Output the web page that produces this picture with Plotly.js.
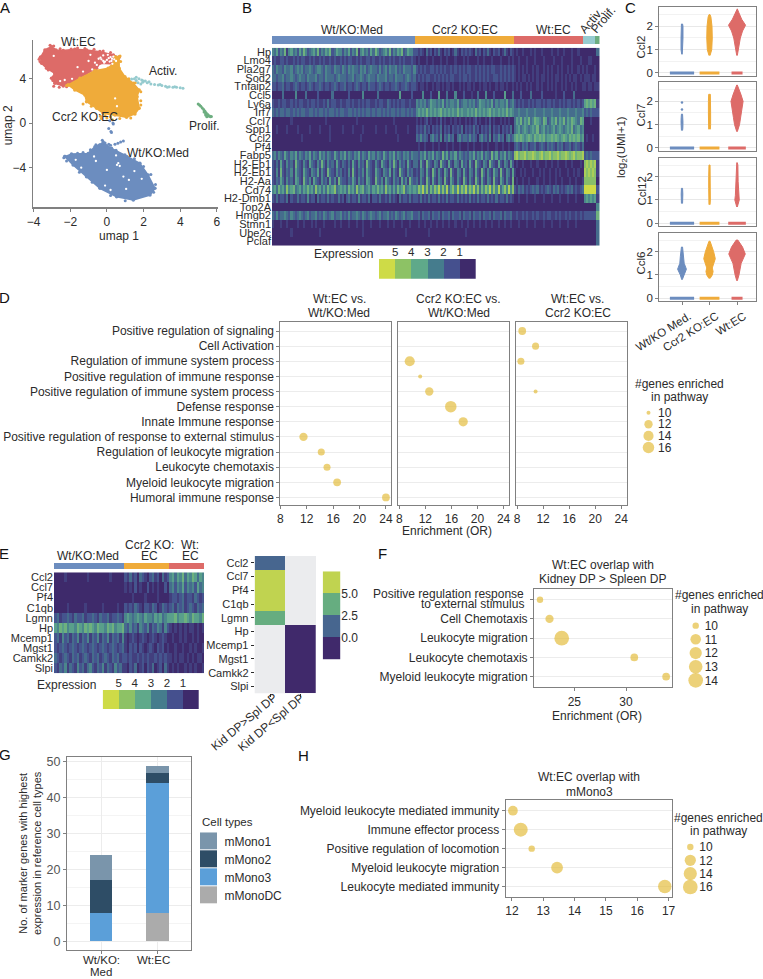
<!DOCTYPE html>
<html><head><meta charset="utf-8">
<script src="https://cdn.plot.ly/plotly-3.0.1.min.js"></script>
<style>html,body{margin:0;padding:0;background:#fff}</style></head>
<body><div id="chart" style="width:763px;height:979px"></div>
<script>
// ---------- palette ----------
const BLUE='#6C8DBF',ORANGE='#EFAB3A',RED='#DD6B68',TEAL='#96CBCF',GREEN='#6DAE80',GOLD='#E4BD40';
const viridisSteps=[[0,'#3E2A6B'],[0.2,'#45508E'],[0.4,'#457C8D'],[0.6,'#5FA98A'],[0.8,'#8DC265'],[1,'#CEDB47']];

// ---------- panel A: UMAP cluster outlines and loose points (umap units) ----------
const wtEcX=[-3.62,-3.38,-3.02,-2.78,-2.38,-1.75,-1.11,-0.38,0.35,0.67,0.44,-0.38,-0.56,-1.11,-1.65,-2.11,-2.38,-2.84,-3.02,-2.84,-3.29,-3.56];
const wtEcY=[5.88,6.54,6.84,6.54,6.48,6.60,6.54,6.39,6.09,5.88,5.28,5.34,4.9,4.39,3.91,3.49,3.31,3.55,4.0,4.45,4.9,5.34];
const wtEcFringeX=[-3.1,-2.9,-1.6,-1.2,-0.7,-0.2,0.2,-3.7,-3.65,-3.2,-2.9,-2.6,-2.2,-2.95,-2.55,-1.95];
const wtEcFringeY=[6.95,6.9,6.72,6.68,6.6,6.45,6.3,5.7,5.5,4.75,3.3,3.2,3.25,3.8,6.65,6.62];
const ccr2X=[-2.11,-1.47,-0.65,0.07,0.35,0.44,0.67,0.67,0.98,1.44,1.76,1.65,1.76,1.53,1.07,0.44,-0.2,-0.56,-1.11,-1.2,-1.75];
const ccr2Y=[3.4,4.0,4.69,4.9,5.34,5.94,5.94,4.9,4.15,3.55,2.96,2.36,1.31,0.81,0.51,0.72,0.87,1.31,1.91,2.51,2.96];
const ccr2FringeX=[-0.35,-0.1,0.2,0.7,1.3,1.85,1.85,1.85,1.55,1.2,0.75,0.72,-2.2,-1.3,-0.85,0.0,0.3,-0.3];
const ccr2FringeY=[0.6,0.65,0.55,0.4,0.45,1.6,2.0,2.8,3.6,3.95,5.5,6.0,3.35,1.7,1.5,0.45,0.3,0.4];
const medX=[-2.29,-1.93,-1.02,-0.65,-0.2,0.25,0.98,1.8,2.25,2.62,2.35,1.44,0.53,-0.38,-1.11,-1.84];
const medY=[-3.01,-2.78,-2.72,-2.12,-1.76,-2.27,-2.87,-3.61,-4.66,-5.85,-6.45,-6.9,-6.6,-5.85,-4.81,-3.76];
const medFringeX=[-2.35,-2.2,-1.6,-1.3,-0.9,-0.75,-0.4,1.1,1.5,2.0,2.4,2.65,2.55,1.0,0.2,-0.8,-1.5,-0.6,-0.25,0.5];
const medFringeY=[-3.1,-3.4,-2.7,-2.65,-2.4,-2.6,-1.95,-3.0,-3.2,-3.9,-4.6,-5.5,-6.2,-6.95,-6.5,-5.3,-4.4,-1.95,-1.55,-2.45];
const medLooseX=[0.44,0.6,0.75,0.9,-0.2,-0.1,0.1,0.2,0.16,0.33,0.1,0.22,0.25,0.35,-0.35,-0.5];
const medLooseY=[-1.9,-1.82,-1.7,-1.62,-1.67,-1.8,-1.9,-2.0,0.2,0.0,-0.5,-0.75,-0.85,-0.1,-2.2,-2.4];
const activX=[1.35,1.5,1.6,1.75,1.9,2.0,2.2,2.4,2.6,2.8,3.0,3.2,3.4,3.6,3.8,4.0,4.15,1.85,1.95,1.6,1.7,2.1,2.3,2.9,3.3,3.7];
const activY=[3.94,3.95,3.8,3.95,3.85,3.75,3.6,3.5,3.45,3.4,3.35,3.3,3.25,3.2,3.2,3.15,3.1,3.5,3.65,4.1,3.6,3.75,3.7,3.45,3.2,3.25];
const prolifX=[4.98,5.05,5.12,5.2,5.28,5.35,5.42,5.5,5.6,5.7,5.4,5.45,5.3,5.55,5.65,5.38];
const prolifY=[1.7,1.6,1.5,1.35,1.2,1.05,0.9,0.75,0.62,0.58,0.7,0.55,0.98,0.62,0.55,0.82];
const gapX=[-0.3,-0.1,0.1,0.25,0.4,-0.2,0.05,0.2,-0.55,-1.0,-0.8,-2.55,-2.3,-1.9,0.62,0.7,0.55,0.0,-0.6,1.2,1.5,-0.1,0.5,0.9,-1.4,0.55,0.45,-0.2,0.3,0.15,-0.45,0.5,-0.35,0.0,0.35,-0.65,0.28,-0.15,-1.6,-0.9,-2.9,-1.3,1.05,1.9,-1.7,0.2,-0.7];
const gapY=[5.7,5.5,5.8,5.55,5.7,6.05,6.1,5.9,5.2,5.55,4.8,3.75,3.85,3.95,-3.6,-3.85,-3.75,-4.2,-3.4,-5.1,-4.3,-5.6,-2.9,-4.8,-4.0,1.5,2.2,5.55,5.3,5.5,5.75,5.55,5.85,5.65,5.95,5.4,5.75,5.4,5.0,6.1,6.0,4.6,-5.9,-5.0,-3.3,-6.0,-3.0];

// ---------- panel B heat map (one digit per column, 0-9; groups 70,48,34,6,2 columns) ----------
const heatBGenes=['Hp','Lmo4','Pla2g7','Sod2','Tnfaip2','Ccl5','Ly6a','Irf7','Ccl7','Spp1','Ccl2','Pf4','Fabp5','H2-Eb1','H2-Eb1','H2-Aa','Cd74','H2-Dmb1','Top2A','Hmgb2','Stmn1','Ube2c','Pclaf'];
const heatBRows=[
'4352436145 3425364234 5362435462 3544243524 3614534253 6423453624 3546235442 2121031202 1310212013 1021212103 1202131021 20131021 0100100010 1001000010 0100100010 0100 000000 33',
'1211221211 2121221121 2112121121 2112121221 1212112212 1121211212 1121211121 0100010010 0010010001 0001010000 1001000100 01000101 0010001000 1000100001 0001000010 0010 001100 00',
'3243324334 2343423343 2344324332 4332432434 3324342343 3242342433 4232433324 2121211221 2121211212 1212122112 1212121221 12121212 1010101001 0100101010 0101001010 0101 010001 00',
'3323342334 3234332433 3423324333 2343332334 2334323433 2433342332 4333234323 1212122112 1212121221 1212212112 1212121122 12121212 1010110101 0101101010 1101010101 1010 111011 00',
'2212231221 2321221232 1223212212 3212231221 2321221322 1232122122 3212232122 1011010010 1101011010 0101011010 0101101001 01101001 0101001010 0101001010 1001010010 1001 101101 11',
'0000030000 0400003000 0020000003 0000000200 0000400000 0300000000 0050000020 0004000200 0500030004 0002000100 3000400020 00050003 0002000030 0002000000 1000200003 0000 000000 00',
'2112122112 1212211212 2121121312 2112112212 1121212211 2122113212 1212211211 4343423544 3435243443 5234434342 3544343524 34435234 2121211212 1221212212 1121212212 1212 565656 11',
'3232332332 3232332233 2323323233 2323322332 3232323323 2332323233 2323323232 4545464545 4564545454 6454454546 4545456454 54546454 3343334333 4333433343 3343334333 4334 232322 22',
'0000000001 0000000000 0000001000 0000000000 0100000000 0000000001 0000000000 1010120100 1020100101 0100101012 0100102010 01010100 3546354634 6543652354 6354635465 4365 000100 00',
'0010000100 0010000010 0001000010 0000100001 0000100000 1000010000 1000001000 2121312021 2130212021 2130212131 2021213021 20212130 3453454345 4634534345 3454345463 4534 000000 00',
'0000000000 0000100000 0000000010 0000000000 0001000000 0000000000 0100000000 3242320342 3140324230 3423324232 0342314032 42303423 5656545654 6565645565 6545654656 5645 010010 00',
'0000000000 0000000000 0000000000 0000000000 0000000000 0000000000 0000000000 0100100010 0100010010 0100010010 0010010001 00100100 2321323122 3123213232 1323122312 3213 000000 00',
'3424325324 3524324352 4325342432 5324352432 4352432534 2432532435 2432434243 3243524352 4326352435 2432324352 4352432635 24352432 7867786778 7678677867 7867787678 6778 232322 22',
'2131521423 1632142153 2142631423 1521321315 2142316321 4215321426 3142315213 3152163214 3163215214 3152315216 3214316321 52143152 0100100010 0100010010 0100010010 0010 787878 11',
'2141621324 1532153214 3251421632 1423121416 2132415321 5321432514 2163214231 2143152163 1421531621 4315214315 2163142153 16214315 1001010001 0010100100 1010001001 0100 878787 11',
'2132531423 1542163241 5321423152 4163221325 3142315421 6324153214 2315241632 3142163152 1431621531 4216314216 3152143162 15314216 0100100100 0100100100 1001000100 1001 777777 00',
'4536453745 6345354645 3745353645 7345453645 3745634535 4645374535 3645734545 4758473647 5847483574 8475847584 7364758474 83574847 2132312123 2312123213 2312123231 2123 999999 22',
'2131221302 1131221412 2031221312 1131202312 2141221302 2131121312 1031221312 2131213122 1312131221 3121213121 3122131213 12213121 0010001000 1000100010 0010001000 1000 454545 11',
'0000000000 0000000000 0000000000 0000000000 0000000000 0000000000 0000000000 0000000000 0000000000 0000000000 0000000000 00000000 0000000000 0000000000 0000000000 0000 000000 44',
'3242334324 3234323423 3423243234 2334232423 3432432343 2342334232 4323423342 2313223132 2313223132 2313223132 2313223132 23132231 1211212112 1211212211 2121121211 2121 222222 66',
'1000100100 0010010001 0100010000 1001000100 0100100010 0010001001 0001000100 0100100100 1001001001 0010010010 0100100100 10010010 0010001000 1000100010 0010001000 1000 000000 33',
'0000000001 0000000000 0001000000 0000000000 0000100000 0000000000 0000010000 0000001000 0000000000 0000100000 0000000000 00000000 0000000000 0000000000 0000000000 0000 000000 33',
'0000000000 0000000000 0000000000 0000000000 0000000000 0000000000 0000000000 0000000000 0000000000 0000000000 0000000000 00000000 0000000000 0000000000 0000000000 0000 000000 33'];
const groupBNames=['Wt/KO:Med','Ccr2 KO:EC','Wt:EC','Activ.','Prolif.'];
const groupBCols=[70,48,34,6,2];
const groupBColours=[BLUE,ORANGE,RED,TEAL,GREEN];
const exprLevels=[5,4,3,2,1,0];

// ---------- panel C violins: levels (log2 UMI+1) and half-widths (category units) ----------
const vGenes=['Ccl2','Ccl7','Ccl12','Ccl6'];
const vCats=['Wt/KO Med.','Ccr2 KO:EC','Wt:EC'];
const vColours=[BLUE,ORANGE,RED];
const vZeroWidth=[[.44,.36,.2],[.44,.36,.32],[.44,.36,.32],[.44,.36,.2]];
const vY=[
 [[.8,1,1.5,2,2.1],[.75,1,1.5,2,2.4,2.5],[.75,1,1.5,1.8,2.05,2.3,2.6,2.75]],
 [[.75,.85,1.1,1.3,1.45],[.8,1,1.5,2,2.3],[.7,1,1.3,1.6,2,2.3,2.6,2.7]],
 [[.85,1,1.25,1.5],[.8,1,1.5,2,2.5],[.7,1,1.2,1.8,2.5,2.6]],
 [[.8,1,1.25,1.5,1.8,2.2],[.85,1,1.15,1.3,1.7,2,2.45],[.75,1,1.5,1.9,2.2,2.5]]];
const vW=[
 [[.01,.035,.035,.035,.02],[.02,.08,.1,.09,.05,.02],[.01,.05,.12,.2,.31,.17,.06,.01]],
 [[.02,.03,.035,.03,.02],[.03,.04,.04,.04,.03],[.01,.09,.13,.17,.22,.14,.05,.01]],
 [[.02,.03,.03,.02],[.02,.03,.03,.03,.02],[.01,.08,.06,.04,.03,.01]],
 [[.01,.06,.16,.08,.06,.02],[.02,.1,.13,.1,.21,.15,.02],[.01,.07,.15,.3,.2,.03]]];
const vDotsMed=[[],[1.65,1.95],[],[]];
const vLabelY=[47.6,115.5,191.5,263.5];

// ---------- panel D ----------
const dTerms=['Positive regulation of signaling','Cell Activation','Regulation of immune system process','Positive regulation of immune response','Positive regulation of immune system process','Defense response','Innate Immune response','Positive regulation of response to external stimulus','Regulation of leukocyte migration','Leukocyte chemotaxis','Myeloid leukocyte migration','Humoral immune response'];
const dRows1=[7,8,9,10,11], dOR1=[11.5,14.2,15.07,16.6,24.0], dN1=[12,11,11,11.5,11.5];
const dRows2=[2,3,4,5,6],  dOR2=[9.6,11.2,12.6,15.9,17.8], dN2=[14,10,12,16,13];
const dRows3=[0,1,2,4],    dOR3=[8.8,10.85,8.6,10.85],     dN3=[11.5,11,11,10];
const dLegend=[10,12,14,16];
const orTicks=[8,12,16,20,24];

// ---------- panel E ----------
const heatEGenes=['Ccl2','Ccl7','Pf4','C1qb','Lgmn','Hp','Mcemp1','Mgst1','Camkk2','Slpi'];
const heatERows=[
'0000100000000100000000100000 213120321023120312 45354635465354',
'0000000000000000000000000000 101020100201010020 34243524342534',
'0000000000000000000000000000 000100001000010000 12212312213212',
'0000010000001000000100000100 212132102213201321 23132312321323',
'2312232132231223213223122321 454345435443545345 55645565465546',
'5465645546546565465546564556 324231432413243142 10101010110101',
'2314231324132413241324132314 101210121012101210 01001010010100',
'2123212321232123212321232123 102120210121021201 00100100101001',
'3212321323123213231232132312 212112121211212121 10101101010110',
'2132413214231342132413214231 102130120213012031 01010010101001'];
const groupECols=[28,18,14];
const groupEColours=[BLUE,ORANGE,RED];
const dpCols=['Kid DP>Spl DP','Kid DP<Spl DP'];
const dpGreater=[1.5,6,6,6,3.5,null,null,null,null,null];
const dpLess=[null,null,null,null,null,-1,-1,-1,-1,-1];
const dpScaleCells=[-1,1.5,3.5,6];
const dpColours=['#40296B','#47668F','#66AD80','#C0D350'];

// ---------- panel F ----------
const fTerms=['','Cell Chemotaxis','Leukocyte migration','Leukocyte chemotaxis','Myeloid leukocyte migration'];
const fFirstTerm=['Positive regulation response','to external stimulus'];
const fOR=[21.68,22.6,23.78,30.8,33.88], fN=[10,10.2,14,10.1,10.1], fLegend=[10,11,12,13,14];

// ---------- panel G ----------
const gCats=[['Wt/KO:','Med'],['Wt:EC']];
const gTypes=['mMonoDC','mMono3','mMono2','mMono1'];
const gColours=['#ABABAB','#5B9FD9','#2E4D66','#7A95AB'];
const gValues=[[0,8],[8,36],[9,3],[7,2]];

// ---------- panel H ----------
const hTerms=['Myeloid leukocyte mediated immunity','Immune effector process','Positive regulation of locomotion','Myeloid leukocyte migration','Leukocyte mediated immunity'];
const hOR=[12.03,12.28,12.63,13.44,16.88], hN=[11,15,10,12.5,14.5], hLegend=[10,12,14,16];

// ---------- helpers ----------
const W=763,H=979;
const FONT='"Liberation Sans", Arial, sans-serif', TXT='#2b2b2b', LINE='#808080';
const data=[],annotations=[],shapes=[],layout={};
let axN=0;
function ax(b,xo,yo){axN++;const s=axN===1?'':axN;
 layout['xaxis'+s]=Object.assign({domain:[b[0]/W,b[1]/W],anchor:'y'+s,zeroline:false,showgrid:false,ticks:'',showticklabels:false,showline:false,fixedrange:true},xo);
 layout['yaxis'+s]=Object.assign({domain:[1-b[3]/H,1-b[2]/H],anchor:'x'+s,zeroline:false,showgrid:false,ticks:'',showticklabels:false,showline:false,fixedrange:true},yo);
 return {xaxis:'x'+s,yaxis:'y'+s};}
function T(t,x,y,size,o){annotations.push(Object.assign({text:t,x:x/W,y:1-y/H,xref:'paper',yref:'paper',showarrow:false,xanchor:'center',yanchor:'middle',font:{size:size,color:TXT,family:FONT}},o||{}));}
const frame={showline:true,mirror:true,linecolor:LINE,linewidth:1};
const tick=(size)=>({ticks:'outside',ticklen:3,tickcolor:LINE,showticklabels:true,tickfont:{size:size,color:TXT}});
const digits=s=>s.replace(/ /g,'').split('').map(Number);
const dSize=(n,lo,hi,a,b)=>a+(b-a)*Math.sqrt((n-lo)/(hi-lo));
function stripHeat(ref,rows){data.push(Object.assign({type:'heatmap',z:rows.map(digits),zmin:0,zmax:9,colorscale:viridisSteps,showscale:false,hoverinfo:'skip'},ref));}
function groupBar(box,cols,colours){const a=ax(box,{range:[0,cols.reduce((p,c)=>p+c,0)]},{range:[-.5,.5]});
 cols.forEach((c,i)=>data.push(Object.assign({type:'bar',orientation:'h',x:[c],y:[0],width:1,marker:{color:colours[i],line:{width:0}},hoverinfo:'skip'},a)));}
function exprKey(box){const a=ax(box,{range:[-.5,5.5],side:'top',tickmode:'array',tickvals:[.5,1.5,2.5,3.5,4.5],ticktext:exprLevels.slice(0,5).map(String),showticklabels:true,tickfont:{size:11.5,color:TXT}},{range:[-.5,.5]});
 data.push(Object.assign({type:'heatmap',z:[exprLevels],zmin:0,zmax:5,colorscale:viridisSteps,showscale:false,hoverinfo:'skip'},a));}
function sizeKey(box,vals,yr,sizeF){const a=ax(box,{range:[-1,1]},{range:yr,side:'right',tickmode:'array',tickvals:vals,showticklabels:true,tickfont:{size:12,color:TXT}});
 data.push(Object.assign({type:'scatter',mode:'markers',x:vals.map(()=>0),y:vals,marker:{color:GOLD,size:vals.map(sizeF),line:{width:0}},hoverinfo:'skip'},a));}

// ---------- A ----------
{const a=ax([33,218,40,207],{range:[-4.03,6.06],showline:true,linecolor:LINE,linewidth:1.5,tickvals:[-4,-2,0,2,4,6],ticktext:['\u22124','\u22122','0','2','4','6'],...tick(12)},
  {range:[-7.52,7.43],showline:true,linecolor:LINE,linewidth:1.5,tickvals:[-4,0,4],ticktext:['\u22124','0','4'],...tick(12)});
 const blob=(x,y,c)=>data.push(Object.assign({type:'scatter',mode:'lines+markers',x:x,y:y,fill:'toself',fillcolor:c,line:{color:c,width:1.5},marker:{color:c,size:3.5},hoverinfo:'skip'},a));
 const dots=(x,y,c,s)=>data.push(Object.assign({type:'scatter',mode:'markers',x:x,y:y,marker:{color:c,size:s,line:{width:0}},hoverinfo:'skip'},a));
 blob(wtEcX.concat(wtEcX[0]),wtEcY.concat(wtEcY[0]),RED);dots(wtEcFringeX,wtEcFringeY,RED,3);
 blob(ccr2X.concat(ccr2X[0]),ccr2Y.concat(ccr2Y[0]),ORANGE);dots(ccr2FringeX,ccr2FringeY,ORANGE,3);
 blob(medX.concat(medX[0]),medY.concat(medY[0]),BLUE);dots(medFringeX,medFringeY,BLUE,3);
 dots(medLooseX,medLooseY,BLUE,3);dots(activX,activY,TEAL,3);dots(prolifX,prolifY,GREEN,3);dots(gapX,gapY,'#fff',2.3);
 T('Wt:EC',78,42,12);T('Activ.',162.7,70.7,12);T('Ccr2 KO:EC',85,117,12);T('Prolif.',204,126,12);T('Wt/KO:Med',157.7,153,12);
 T('umap 1',118.7,236,12);T('umap 2',8.3,125,12,{textangle:-90});}

// ---------- B ----------
{groupBar([272,599.5,36,44],groupBCols,groupBColours);
 const a=ax([272,599.5,47.7,245.7],{range:[-.5,159.5]},{range:[22.5,-.5],tickmode:'array',tickvals:heatBGenes.map((_,i)=>i),ticktext:heatBGenes,showticklabels:true,tickfont:{size:11,color:TXT}});
 stripHeat(a,heatBRows);
 exprKey([379,475.7,259,278.7]);
 T('Wt/KO:Med',351.5,30,12);T('Ccr2 KO:EC',464.5,30,12);T('Wt:EC',553.5,30,12);
 T('Activ.',591,21,12,{textangle:-50});T('Prolif.',603,20,12,{textangle:-50});
 T('Expression',343,254,12);}

// ---------- C ----------
{const boxes=[[7.3,76],[82.3,151],[157.7,226.3],[232.7,301.3]];
 vGenes.forEach((g,gi)=>{
  const last=gi===3;
  const a=ax([659.3,756.3,boxes[gi][0],boxes[gi][1]],
   {range:[-.825,2.7],...frame,tickmode:'array',tickvals:[0,1,2],ticktext:vCats,...(last?{...tick(11.5),tickangle:-32,ticklabelshift:7}:{ticks:'outside',ticklen:0})},
   {range:[-.13,2.816],...frame,tickmode:'array',tickvals:[0,1,2],showgrid:true,gridcolor:'#e8e8e8',gridwidth:1,...tick(11.5),minor:{tickvals:[.5,1.5,2.5],showgrid:true,gridcolor:'#f2f2f2',ticks:''}});
  vCats.forEach((c,ci)=>{
   const ys=vY[gi][ci],ws=vW[gi][ci];
   data.push(Object.assign({type:'scatter',mode:'lines',x:ws.map(w=>ci-w).concat(ws.slice().reverse().map(w=>ci+w)),y:ys.concat(ys.slice().reverse()),fill:'toself',fillcolor:vColours[ci],line:{color:vColours[ci],width:1},hoverinfo:'skip'},a));
   data.push(Object.assign({type:'scatter',mode:'lines',x:[ci-vZeroWidth[gi][ci],ci+vZeroWidth[gi][ci]],y:[0,0],line:{color:vColours[ci],width:3},hoverinfo:'skip'},a));
  });
  if(vDotsMed[gi].length)data.push(Object.assign({type:'scatter',mode:'markers',x:vDotsMed[gi].map(()=>0),y:vDotsMed[gi],marker:{color:BLUE,size:2.5},hoverinfo:'skip'},a));
  T(g,641,vLabelY[gi],11.5,{textangle:-90});
 });
 T('log<sub>2</sub>(UMI+1)',622,147,11.5,{textangle:-90});}

// ---------- D ----------
{const sz=n=>dSize(n,10,16,4,11.5);
 const yCommon={range:[11.5,-.575],tickmode:'array',tickvals:dTerms.map((_,i)=>i),showgrid:true,gridcolor:'#ececec',gridwidth:1,...frame};
 const panels=[[280.4,391.2,dRows1,dOR1,dN1],[398,508.8,dRows2,dOR2,dN2],[515.7,626.5,dRows3,dOR3,dN3]];
 panels.forEach((p,i)=>{
  const a=ax([p[0],p[1],322.3,505],{range:[i?7.8:8,24.8],tickvals:orTicks,...frame,...tick(12)},
   i===0?{...yCommon,ticktext:dTerms,...tick(12)}:{...yCommon});
  data.push(Object.assign({type:'scatter',mode:'markers',x:p[3],y:p[2],marker:{color:GOLD,size:p[4].map(sz),line:{width:0}},hoverinfo:'skip'},a));
 });
 T('Wt:EC vs.',339,299.3,12);T('Wt/KO:Med',339,313.3,12);
 T('Ccr2 KO:EC vs.',459,299.3,12);T('Wt/KO:Med',459,313.3,12);
 T('Wt:EC vs.',577.5,299.3,12);T('Ccr2 KO:EC',577.5,313.3,12);
 T('Enrichment (OR)',447,531,12);
 T('#genes enriched',679,383.7,12);T('in pathway',679,396.7,12);
 sizeKey([640,657,405,455],dLegend,[17.3,8.67],sz);}

// ---------- E ----------
{groupBar([54,204,563,569.3],groupECols,groupEColours);
 const a=ax([54,204,572.3,673.3],{range:[-.5,59.5]},{range:[9.5,-.5],tickmode:'array',tickvals:heatEGenes.map((_,i)=>i),ticktext:heatEGenes,showticklabels:true,tickfont:{size:11,color:TXT}});
 stripHeat(a,heatERows);
 exprKey([102.7,199,690,709.3]);
 T('Wt/KO:Med',88,555.7,12);T('Ccr2 KO:',149,545,12);T('EC',149,555.7,12);T('Wt:',190,545,12);T('EC',190,555.7,12);
 T('Expression',66.7,684.7,12);
 const b=ax([254.7,316,556,693.3],{range:[-.5,1.5],tickmode:'array',tickvals:[0,1],ticks:'outside',ticklen:3,tickcolor:TXT},
   {range:[9.5,-.5],tickmode:'array',tickvals:heatEGenes.map((_,i)=>i),ticktext:heatEGenes,...tick(11),tickcolor:TXT});
 T(dpCols[0],244,721.5,12,{textangle:-40});T(dpCols[1],270.5,722.5,12,{textangle:-40});
 const n=b.xaxis.slice(1);
 shapes.push({type:'rect',xref:'x'+n+' domain',yref:'y'+n+' domain',x0:0,x1:1,y0:0,y1:1,fillcolor:'#EBECEE',line:{width:0},layer:'below'});
 const dpScale=[[0,dpColours[0]],[.25,dpColours[0]],[.25,dpColours[1]],[.5,dpColours[1]],[.5,dpColours[2]],[.75,dpColours[2]],[.75,dpColours[3]],[1,dpColours[3]]];
 data.push(Object.assign({type:'heatmap',z:heatEGenes.map((_,i)=>[dpGreater[i],dpLess[i]]),zmin:-2,zmax:8,colorscale:dpScale,showscale:false,hoverinfo:'skip',hoverongaps:false},b));
 const c=ax([322.7,340.3,571.3,659.7],{range:[-.5,.5]},{range:[0,4],side:'right',tickmode:'array',tickvals:[1,2,3],ticktext:['0.0','2.5','5.0'],showticklabels:true,tickfont:{size:12,color:TXT}});
 data.push(Object.assign({type:'heatmap',z:dpScaleCells.map(v=>[v]),x:[0],y:[.5,1.5,2.5,3.5],zmin:-2,zmax:8,colorscale:dpScale,showscale:false,hoverinfo:'skip'},c));}

// ---------- F ----------
{const sz=n=>dSize(n,10,14,6.4,14.7);
 const a=ax([534,671.7,589,687.3],{range:[21.1,34.42],tickvals:[25,30],...frame,...tick(12)},
  {range:[4.55,-.555],tickmode:'array',tickvals:fTerms.map((_,i)=>i),ticktext:fTerms,showgrid:true,gridcolor:'#ececec',...frame,...tick(12)});
 data.push(Object.assign({type:'scatter',mode:'markers',x:fOR,y:fTerms.map((_,i)=>i),marker:{color:GOLD,size:fN.map(sz),line:{width:0}},hoverinfo:'skip'},a));
 T(fFirstTerm[0],526,593.5,12,{xanchor:'right'});T(fFirstTerm[1],526,604,12,{xanchor:'right'});
 T('Wt:EC overlap with',602.7,565,12);T('Kidney DP > Spleen DP',602.7,579.3,12);
 T('Enrichment (OR)',596.7,716.3,12);
 T('#genes enriched',719,595,12);T('in pathway',719,608.7,12);
 sizeKey([687.7,703.7,615,692],fLegend,[14.85,9.22],sz);}

// ---------- G ----------
{const a=ax([67,191.3,757.3,950],{range:[-.604,1.604],tickmode:'array',tickvals:[0,1],showgrid:true,gridcolor:'#ececec',...frame,ticks:'outside',ticklen:3,tickcolor:LINE},
  {range:[-2.4,51.3],tickvals:[0,10,20,30,40,50],showgrid:true,gridcolor:'#ececec',...frame,...tick(12.5),tickfont:{size:12.5,color:'#555'},minor:{tickvals:[5,15,25,35,45],showgrid:true,gridcolor:'#f4f4f4',ticks:''}});
 gTypes.forEach((t,i)=>data.push(Object.assign({type:'bar',x:[0,1],y:gValues[i],width:.4,name:t,marker:{color:gColours[i],line:{width:0}},hoverinfo:'skip'},a)));
 T(gCats[0][0],101,960,11.5);T(gCats[0][1],101,972,11.5);T(gCats[1][0],153,960,11.5);
 T('No. of marker genes with highest<br>expression in reference cell types',30,853,11,{textangle:-90});
 T('Cell types',200,822,11.5,{xanchor:'left'});
 const k=ax([200,217,832.3,904.7],{range:[-.5,.5]},{range:[-.5,3.5],side:'right',tickmode:'array',tickvals:[0,1,2,3],ticktext:gTypes,showticklabels:true,tickfont:{size:12,color:TXT},ticks:'outside',ticklen:4,tickcolor:'rgba(0,0,0,0)'});
 data.push(Object.assign({type:'heatmap',z:gTypes.map((_,i)=>[i]),zmin:0,zmax:3,ygap:1,colorscale:[[0,gColours[0]],[1/3,gColours[1]],[2/3,gColours[2]],[1,gColours[3]]],showscale:false,hoverinfo:'skip'},k));}

// ---------- H ----------
{const sz=n=>dSize(n,10,16,6.4,14.7);
 const a=ax([505.7,671.7,799.7,897],{range:[11.8,17.1],tickvals:[12,13,14,15,16,17],...frame,...tick(12)},
  {range:[4.55,-.58],tickmode:'array',tickvals:hTerms.map((_,i)=>i),ticktext:hTerms,showgrid:true,gridcolor:'#ececec',...frame,...tick(12)});
 data.push(Object.assign({type:'scatter',mode:'markers',x:hOR,y:hTerms.map((_,i)=>i),marker:{color:GOLD,size:hN.map(sz),line:{width:0}},hoverinfo:'skip'},a));
 T('Wt:EC overlap with',589,777.3,12);T('mMono3',589,792,12);
 T('#genes enriched',718.7,817.7,12);T('in pathway',718.7,831,12);
 sizeKey([682.3,698.3,838,898],hLegend,[17.65,8.65],sz);}

// ---------- panel letters ----------
[['A',5,7],['B',247,7],['C',630,7],['D',4,297],['E',4,553],['F',382,553],['G',5,754],['H',303,755]].forEach(l=>T(l[0],l[1],l[2],15,{font:{size:15,color:'#111',family:FONT}}));

Object.assign(layout,{width:W,height:H,margin:{l:0,r:0,t:0,b:0},paper_bgcolor:'#fff',plot_bgcolor:'rgba(0,0,0,0)',font:{family:FONT,color:TXT},showlegend:false,barmode:'stack',annotations:annotations,shapes:shapes});
Plotly.newPlot('chart',data,layout,{displayModeBar:false,staticPlot:true});
</script></body></html>
